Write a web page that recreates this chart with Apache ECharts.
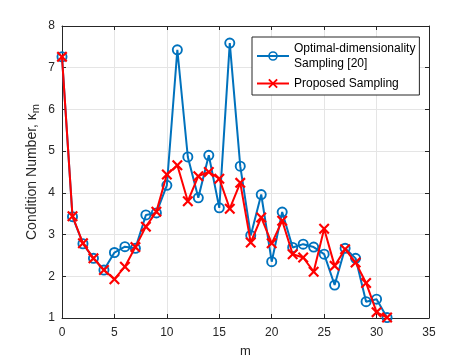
<!DOCTYPE html>
<html>
<head>
<meta charset="utf-8">
<script src="https://cdn.jsdelivr.net/npm/echarts@6/dist/echarts.min.js"></script>
<style>html,body{margin:0;padding:0;background:#fff}#c{width:474px;height:363px}</style>
</head>
<body>
<div id="c"></div>
<script>
var mValues = [0,1,2,3,4,5,6,7,8,9,10,11,12,13,14,15,16,17,18,19,20,21,22,23,24,25,26,27,28,29,30,31];
var optimalSeries = [7.26,3.43,2.78,2.43,2.15,2.57,2.71,2.67,3.47,3.52,4.18,7.43,4.86,3.88,4.90,3.64,7.59,4.64,2.98,3.96,2.35,3.54,2.69,2.77,2.70,2.53,1.79,2.67,2.43,1.39,1.45,1.01];
var proposedSeries = [7.26,3.44,2.79,2.43,2.15,1.93,2.23,2.70,3.19,3.55,4.44,4.66,3.80,4.40,4.50,4.34,3.62,4.24,2.81,3.41,2.79,3.33,2.53,2.45,2.11,3.14,2.25,2.65,2.33,1.84,1.14,1.01];
var xTicks = [0,5,10,15,20,25,30,35];
var yTicks = [1,2,3,4,5,6,7,8];
var seriesNames = ['Optimal-dimensionality Sampling [20]', 'Proposed Sampling'];

var FONT = 'Liberation Sans, Arial, Helvetica, sans-serif';
var AX = '#262626';
var ring = 'path://M0,5A5,5 0 1,1 10,5A5,5 0 1,1 0,5ZM1.7,5A3.3,3.3 0 1,0 8.3,5A3.3,3.3 0 1,0 1.7,5Z';
var cross = 'path://M1.4,0L5,3.6L8.6,0L10,1.4L6.4,5L10,8.6L8.6,10L5,6.4L1.4,10L0,8.6L3.6,5L0,1.4Z';

function pairs(ys){ return ys.map(function(v,i){ return [mValues[i], v]; }); }

var chart = echarts.init(document.getElementById('c'), null, {renderer:'canvas'});
var axisCommon = {
  axisLine:{show:true, onZero:false, lineStyle:{color:AX, width:1}},
  axisTick:{show:true, inside:true, length:4, lineStyle:{color:AX}},
};
chart.setOption({
  animation:false,
  backgroundColor:'#fff',
  textStyle:{fontFamily:FONT},
  grid:{left:62, right:45, top:26, bottom:44, containLabel:false},
  xAxis:[
    Object.assign({type:'value', min:xTicks[0], max:xTicks[xTicks.length-1], interval:5,
      name:'m', nameLocation:'middle', nameGap:27, nameMoveOverlap:false,
      nameTextStyle:{color:AX, fontSize:13, fontFamily:FONT},
      axisLabel:{color:AX, fontSize:12, margin:9, fontFamily:FONT},
      splitLine:{show:true, lineStyle:{color:'#e5e5e5', width:1}}}, axisCommon),
    Object.assign({type:'value', position:'top', min:0, max:35, interval:5,
      axisLabel:{show:false}, splitLine:{show:false}}, axisCommon)
  ],
  yAxis:[
    Object.assign({type:'value', min:yTicks[0], max:yTicks[yTicks.length-1], interval:1,
      name:'{a|Condition Number, κ}{b|m}', nameLocation:'middle', nameGap:21, nameRotate:90, nameMoveOverlap:false,
      nameTextStyle:{color:AX, fontFamily:FONT,
        rich:{a:{fontSize:14, color:AX, fontFamily:FONT}, b:{fontSize:11, color:AX, fontFamily:FONT, verticalAlign:'bottom', padding:[7,0,0,0]}}},
      axisLabel:{color:AX, fontSize:12, margin:7, fontFamily:FONT},
      splitLine:{show:true, lineStyle:{color:'#e5e5e5', width:1}}}, axisCommon),
    Object.assign({type:'value', position:'right', min:1, max:8, interval:1,
      axisLabel:{show:false}, splitLine:{show:false}}, axisCommon)
  ],
  legend:{
    orient:'vertical', left:252, top:37,
    width:160,
    padding:[4,4,4,4],
    itemGap:5,
    itemWidth:32, itemHeight:12,
    backgroundColor:'#fff',
    borderColor:AX, borderWidth:1, borderRadius:0,
    textStyle:{color:'#000', fontSize:12, lineHeight:15, fontFamily:FONT},
    formatter:function(n){ return n === seriesNames[0] ? 'Optimal-dimensionality\nSampling [20]' : n; },
    data:seriesNames
  },
  series:[
    {name:seriesNames[0], type:'line', data:pairs(optimalSeries),
      symbol:ring, symbolSize:11, showAllSymbol:true,
      lineStyle:{color:'#0072BD', width:2}, itemStyle:{color:'#0072BD'}, z:2},
    {name:seriesNames[1], type:'line', data:pairs(proposedSeries),
      symbol:cross, symbolSize:11, showAllSymbol:true,
      lineStyle:{color:'#FF0000', width:2}, itemStyle:{color:'#FF0000'}, z:3}
  ]
});
</script>
</body>
</html>
